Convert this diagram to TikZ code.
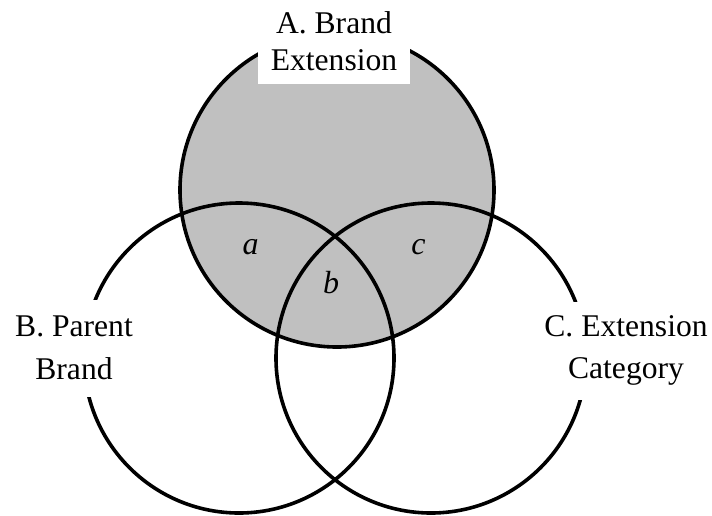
\documentclass[tikz,border=0pt]{standalone}
\usepackage{fontspec}
\setmainfont{Liberation Serif}
\definecolor{vgray}{RGB}{192,192,192}
\begin{document}
\begin{tikzpicture}[x=1pt,y=-1pt,
  ring/.style={draw=black,line width=3.6pt},
  setlabel/.style={fill=white,align=center,inner xsep=13pt},
  region/.style={anchor=base,inner sep=0pt,font=\fontsize{32}{37}\selectfont\itshape}]
\useasboundingbox[fill=white] (0,0) rectangle (712,515);
% circles
\fill[vgray] (337,190) circle[radius=157pt];
\draw[ring] (239,358) circle[radius=155pt];
\draw[ring] (431,358) circle[radius=155pt];
\draw[ring] (337,190) circle[radius=157pt];
% set labels
\node[setlabel,inner ysep=13.2pt,font=\fontsize{31.6}{37}\selectfont] (labA) at (334,41) {A. Brand\\Extension};
\node[setlabel,inner ysep=16.5pt,font=\fontsize{31.6}{43}\selectfont] (labB) at (74,348) {B. Parent\\Brand};
\node[setlabel,inner ysep=14pt,font=\fontsize{31.6}{42}\selectfont] (labC) at (626,350.7) {C. Extension\\Category};
% region letters
\node[region] (ra) at (250.5,254) {a};
\node[region] (rb) at (331,293) {b};
\node[region] (rc) at (418.5,254) {c};
\end{tikzpicture}
\end{document}
